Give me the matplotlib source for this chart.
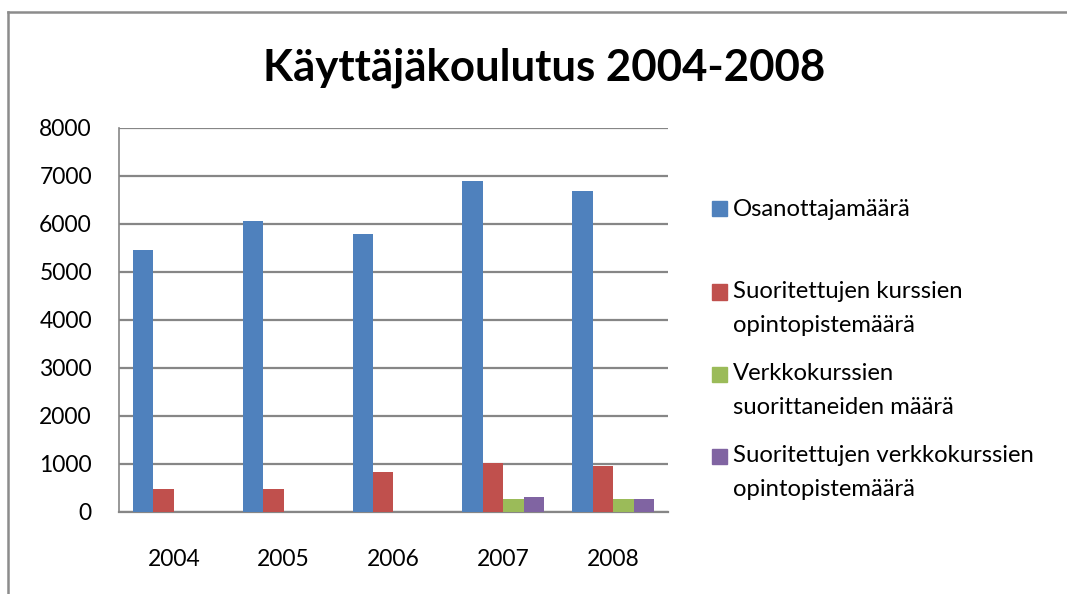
import matplotlib
matplotlib.use("Agg")
import matplotlib.pyplot as plt
from matplotlib.patches import Rectangle
from matplotlib.lines import Line2D
import numpy as np

years = ["2004", "2005", "2006", "2007", "2008"]
series_names = [
    "Osanottajamäärä",
    "Suoritettujen kurssien\nopintopistemäärä",
    "Verkkokurssien\nsuorittaneiden määrä",
    "Suoritettujen verkkokurssien\nopintopistemäärä",
]
osanottajat = [5460, 6060, 5800, 6900, 6690]
kurssi_op = [485, 485, 825, 1030, 950]
verkko_suorittaneet = [0, 0, 0, 265, 265]
verkko_op = [0, 0, 0, 310, 265]
colors = ["#4F81BD", "#C0504D", "#9BBB59", "#8064A2"]
yticks = [0, 1000, 2000, 3000, 4000, 5000, 6000, 7000, 8000]

W, H = 1067, 594
FONT = ["Lato", "DejaVu Sans"]
plt.rcParams["font.family"] = FONT

fig = plt.figure(figsize=(W / 100, H / 100), dpi=100)
fig.patch.set_facecolor("white")

# axes in pixel coordinates
x0, x1, ytop, ybot = 119, 668, 128, 512
ax = fig.add_axes([x0 / W, 1 - ybot / H, (x1 - x0) / W, (ybot - ytop) / H])

data = [osanottajat, kurssi_op, verkko_suorittaneet, verkko_op]
n = len(data)
w = 0.186
x = np.arange(len(years))
for i, (vals, c) in enumerate(zip(data, colors)):
    offs = (i - (n - 1) / 2) * w
    ax.bar(x + offs, vals, width=w, color=c, edgecolor="none", zorder=3)

ax.set_xlim(-0.5, len(years) - 0.5)
ax.set_ylim(0, 8000)
ax.set_yticks(yticks)
ax.set_yticklabels([str(v) for v in yticks])
ax.set_xticks(x)
ax.set_xticklabels(years)
ax.tick_params(axis="both", length=0, labelsize=16.5, colors="black")
ax.tick_params(axis="y", pad=19.5)
ax.tick_params(axis="x", pad=26.5)
ax.grid(axis="y", color="#868686", linewidth=1.6, zorder=0)
for s in ["top", "right"]:
    ax.spines[s].set_visible(False)
ax.spines["left"].set_color("#868686")
ax.spines["left"].set_linewidth(1.2)
ax.spines["bottom"].set_color("#868686")
ax.spines["bottom"].set_linewidth(1.6)
ax.set_axisbelow(True)

# title
fig.text(544 / W, 1 - 68 / H, "Käyttäjäkoulutus 2004-2008", ha="center", va="center",
         fontsize=31.5, fontweight="bold", family=FONT)

# legend (manual, Excel style)
leg_rows = [[209], [292, 325], [374, 408], [456, 489]]
for name, c, rows in zip(series_names, colors, leg_rows):
    lines = name.split("\n")
    yc = rows[0]
    fig.patches.append(Rectangle((712 / W, 1 - (yc + 7.5) / H), 15 / W, 15 / H,
                                 transform=fig.transFigure, color=c, figure=fig))
    for ln, yy in zip(lines, rows):
        fig.text(733 / W, 1 - yy / H, ln, ha="left", va="center", fontsize=17.2, family=FONT)

# outer border (left and top)
fig.add_artist(Line2D([8 / W, 8 / W], [0, 1 - 12 / H], transform=fig.transFigure,
                      color="#8c8c8c", linewidth=1.8))
fig.add_artist(Line2D([8 / W, 1], [1 - 12 / H, 1 - 12 / H], transform=fig.transFigure,
                      color="#8c8c8c", linewidth=1.8))

fig.savefig("out.png", dpi=100, facecolor="white")
